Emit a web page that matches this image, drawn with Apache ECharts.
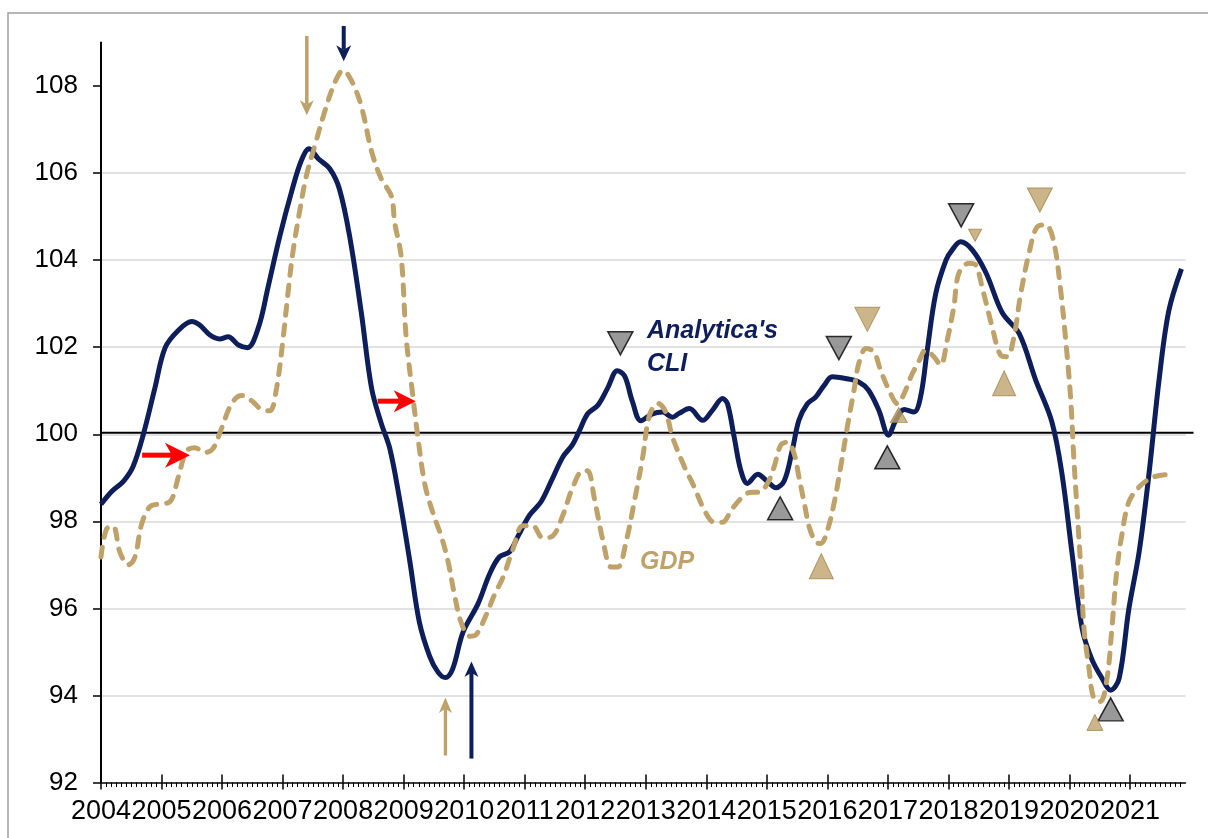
<!DOCTYPE html>
<html><head><meta charset="utf-8">
<script src="https://cdn.jsdelivr.net/npm/echarts@6/dist/echarts.min.js"></script>
<style>html,body{margin:0;padding:0;background:#fff}#c{width:1208px;height:838px}</style>
</head><body><div id="c"></div>
<script>
// ---- data ----
const cliYears = [2004.00,2004.18,2004.37,2004.53,2004.70,2004.89,2005.06,2005.28,2005.50,2005.63,2005.80,2005.96,2006.10,2006.27,2006.42,2006.60,2006.76,2006.95,2007.15,2007.31,2007.44,2007.59,2007.78,2007.94,2008.11,2008.30,2008.47,2008.63,2008.77,2008.93,2009.10,2009.26,2009.43,2009.57,2009.69,2009.81,2009.98,2010.23,2010.42,2010.58,2010.75,2010.89,2011.08,2011.27,2011.44,2011.63,2011.79,2011.90,2012.04,2012.21,2012.37,2012.53,2012.65,2012.78,2012.92,2013.11,2013.28,2013.44,2013.55,2013.72,2013.94,2014.10,2014.27,2014.35,2014.46,2014.57,2014.68,2014.85,2014.99,2015.15,2015.29,2015.42,2015.53,2015.67,2015.81,2015.95,2016.08,2016.30,2016.52,2016.68,2016.85,2017.01,2017.13,2017.27,2017.43,2017.54,2017.65,2017.79,2017.96,2018.06,2018.20,2018.39,2018.62,2018.89,2019.17,2019.44,2019.71,2019.88,2020.04,2020.21,2020.37,2020.54,2020.68,2020.82,2020.98,2021.15,2021.31,2021.48,2021.64,2021.85];
const cliValues = [98.39,98.69,98.92,99.26,100.0,101.06,101.99,102.39,102.59,102.51,102.28,102.19,102.24,102.05,101.99,102.45,103.38,104.53,105.58,106.29,106.56,106.33,106.10,105.63,104.53,102.8,101.06,100.25,99.68,98.53,97.1,95.68,94.9,94.53,94.41,94.61,95.45,96.11,96.79,97.18,97.3,97.66,98.14,98.45,98.93,99.48,99.76,100.07,100.47,100.67,101.06,101.46,101.34,100.75,100.31,100.47,100.51,100.39,100.48,100.59,100.32,100.55,100.82,100.7,99.94,99.17,98.87,99.08,98.94,98.77,98.94,99.63,100.32,100.7,100.86,101.13,101.32,101.28,101.2,101.01,100.55,99.98,100.32,100.57,100.51,100.86,101.93,103.23,104.0,104.23,104.42,104.24,103.71,102.79,102.31,101.25,100.28,99.05,97.29,95.53,94.83,94.39,94.12,94.39,95.98,97.29,99.05,101.25,102.83,103.80];

const gdpYears = [2004.00,2004.09,2004.20,2004.31,2004.45,2004.56,2004.67,2004.81,2004.97,2005.14,2005.28,2005.41,2005.55,2005.72,2005.85,2005.99,2006.16,2006.32,2006.49,2006.65,2006.79,2006.90,2007.01,2007.09,2007.17,2007.28,2007.39,2007.53,2007.70,2007.86,2008.00,2008.14,2008.30,2008.47,2008.63,2008.80,2008.85,2008.96,2009.04,2009.15,2009.24,2009.35,2009.48,2009.62,2009.73,2009.84,2009.95,2010.09,2010.20,2010.36,2010.50,2010.64,2010.80,2010.97,2011.13,2011.30,2011.46,2011.63,2011.79,2011.96,2012.04,2012.15,2012.29,2012.43,2012.54,2012.67,2012.81,2012.95,2013.06,2013.20,2013.33,2013.44,2013.64,2013.80,2013.97,2014.13,2014.27,2014.41,2014.57,2014.74,2014.87,2015.01,2015.12,2015.23,2015.34,2015.45,2015.53,2015.62,2015.70,2015.81,2015.89,2016.00,2016.11,2016.22,2016.33,2016.44,2016.52,2016.64,2016.77,2016.88,2017.02,2017.16,2017.27,2017.38,2017.52,2017.62,2017.76,2017.87,2017.98,2018.09,2018.17,2018.34,2018.45,2018.56,2018.72,2018.86,2018.97,2019.08,2019.19,2019.33,2019.47,2019.61,2019.74,2019.85,2019.94,2020.02,2020.07,2020.13,2020.19,2020.24,2020.32,2020.40,2020.51,2020.62,2020.70,2020.78,2020.87,2020.98,2021.15,2021.37,2021.59];
const gdpValues = [97.18,97.82,97.89,97.3,97.0,97.18,97.93,98.34,98.4,98.45,99.03,99.61,99.69,99.58,99.67,100.13,100.71,100.89,100.77,100.57,100.54,101.06,102.22,103.26,104.18,105.11,105.92,106.62,107.43,108.07,108.36,108.12,107.54,106.5,105.87,105.46,104.88,104.07,102.25,100.9,99.88,98.85,98.21,97.66,97.10,96.31,95.68,95.36,95.4,95.84,96.31,96.71,97.34,97.9,97.9,97.62,97.66,98.14,98.77,99.16,99.16,98.53,97.58,96.95,96.95,97.5,98.45,99.48,100.43,100.71,100.51,99.94,99.25,98.79,98.25,97.98,97.98,98.25,98.52,98.67,98.67,98.87,99.25,99.75,99.82,99.56,99.02,98.41,97.87,97.52,97.49,97.79,98.41,99.25,100.17,101.01,101.63,101.97,101.89,101.47,101.01,100.7,100.94,101.32,101.7,101.93,101.78,101.59,102.16,102.93,103.69,103.93,103.89,103.36,102.48,101.82,101.78,102.22,103.19,104.15,104.77,104.81,104.42,103.36,102.13,100.81,99.49,98.17,96.85,95.53,94.65,93.94,93.86,94.39,95.53,96.85,97.73,98.44,98.79,99.01,99.07];

const yearTicks = [2004,2005,2006,2007,2008,2009,2010,2011,2012,2013,2014,2015,2016,2017,2018,2019,2020,2021];
const valueTicks = [92,94,96,98,100,102,104,106,108];

const cliPeaks = [[2012.58,102.09],[2016.19,101.98],[2018.21,105.03]];
const cliTroughs = [[2015.22,98.30],[2016.99,99.47],[2020.68,93.68]];
const gdpPeaks = [[2016.66,102.64],[2019.51,105.38],[2018.44,104.57]];
const gdpTroughs = [[2015.90,96.97],[2017.18,100.44],[2018.92,101.17],[2020.42,93.38]];

// annotation arrows (data units): tail -> tip
const arrowTails = [[2007.40,109.15],[2008.01,109.38],[2009.69,92.62],[2010.12,92.55],[2004.68,99.52],[2008.57,100.76]];
const arrowTips  = [[2007.40,107.33],[2008.01,108.57],[2009.69,93.95],[2010.12,94.78],[2005.47,99.52],[2009.20,100.76]];

// ---- styles ----
const NAVY = '#0e1e5b', TAN = '#bfa26a', TAN_DARK = '#a0854f', GRAY = '#7f7f7f', RED = '#ff0000';
const FONT = '"Liberation Sans", Arial, sans-serif';
const gdpPeakSizes = [[25,24],[25,24],[13,12]];
const gdpTroughSizes = [[24,25],[17,15],[23,25],[16,16]];
const arrowStyles = [
  {c:TAN, w:3.5, L:15, W:7}, {c:NAVY, w:4, L:16, W:7.5},
  {c:TAN, w:3.3, L:15.5, W:6.5}, {c:NAVY, w:4, L:15.5, W:7},
  {c:RED, w:5, L:25, W:12.5}, {c:RED, w:5, L:22, W:11}
];
const XMAX = 2004 + 215/12;

const chart = echarts.init(document.getElementById('c'), null, {renderer:'canvas'});
const pair = (xs, ys) => xs.map((x,i)=>[x, ys[i]]);

chart.setOption({
  animation:false,
  backgroundColor:'#fff',
  grid:{left:101, right:22.5, top:42.5, bottom:55.5, containLabel:false},
  xAxis:[{
    type:'value', min:2004, max:XMAX, interval:1,
    axisLine:{show:true, onZero:false, lineStyle:{color:'#000', width:1.5}},
    axisTick:{show:true, length:7, customValues:yearTicks, lineStyle:{color:'#000', width:1.5}},
    minorTick:{show:true, splitNumber:12, length:4.5, lineStyle:{color:'#000', width:1}},
    axisLabel:{customValues:yearTicks, showMinLabel:true, showMaxLabel:true, hideOverlap:false,
      formatter:v=>String(Math.round(v)), fontSize:27, color:'#000', margin:16, fontFamily:FONT},
    splitLine:{show:false}, minorSplitLine:{show:false}
  },{
    type:'value', min:2004, max:XMAX, interval:1, position:'bottom',
    axisLine:{show:false},
    axisTick:{show:true, inside:true, length:8, customValues:yearTicks, lineStyle:{color:'#000', width:1.5}},
    axisLabel:{show:false}, splitLine:{show:false}
  }],
  yAxis:{
    type:'value', min:92, max:109, interval:2,
    axisLine:{show:true, onZero:false, lineStyle:{color:'#000', width:2}},
    axisTick:{show:true, length:8, customValues:valueTicks, lineStyle:{color:'#000', width:1.5}},
    axisLabel:{customValues:valueTicks, showMinLabel:true, fontSize:26, color:'#000', margin:23, fontFamily:FONT},
    splitLine:{show:true, showMinLine:false, showMaxLine:false, lineStyle:{color:'#d9d9d9', width:1.5}}
  },
  series:[
    {name:"Analytica's CLI", type:'line', data:pair(cliYears, cliValues), smooth:0.35, symbol:'none',
     lineStyle:{color:NAVY, width:5}, z:3, silent:true},
    {name:'GDP', type:'line', data:pair(gdpYears, gdpValues), smooth:0.35, symbol:'none',
     lineStyle:{color:TAN, width:5, type:[10,10], cap:'round'}, z:4, silent:true},
    {type:'scatter', data:cliPeaks, symbol:'triangle', symbolRotate:180, symbolSize:[25,23],
     itemStyle:{color:GRAY, borderColor:'#000', borderWidth:1.5}, z:6, silent:true},
    {type:'scatter', data:cliTroughs, symbol:'triangle', symbolSize:[25,23],
     itemStyle:{color:GRAY, borderColor:'#000', borderWidth:1.5}, z:6, silent:true},
    {type:'scatter', data:gdpPeaks, symbol:'triangle', symbolRotate:180,
     symbolSize:(v,p)=>gdpPeakSizes[p.dataIndex],
     itemStyle:{color:TAN, borderColor:TAN_DARK, borderWidth:1}, z:6, silent:true},
    {type:'scatter', data:gdpTroughs, symbol:'triangle',
     symbolSize:(v,p)=>gdpTroughSizes[p.dataIndex],
     itemStyle:{color:TAN, borderColor:TAN_DARK, borderWidth:1}, z:6, silent:true}
  ]
});

// ---- annotations from data coordinates ----
const px = p => chart.convertToPixel({gridIndex:0}, p);
const g = [];
g.push({type:'rect', shape:{x:8, y:13, width:1215, height:840}, style:{fill:'none', stroke:'#a0a0a0', lineWidth:1.5}, z:0, silent:true});
const a100 = px([2004,100]), b100 = px([XMAX,100]);
g.push({type:'line', shape:{x1:a100[0], y1:a100[1]-1.5, x2:b100[0]+8, y2:b100[1]-1.5}, style:{stroke:'#000', lineWidth:2}, z:1, silent:true});
arrowTails.forEach((t,i)=>{
  const s = arrowStyles[i];
  const T = px(t), P = px(arrowTips[i]);
  const dx = P[0]-T[0], dy = P[1]-T[1], len = Math.hypot(dx,dy);
  const ux = dx/len, uy = dy/len, nx = -uy, ny = ux;
  const bx = P[0]-ux*s.L, by = P[1]-uy*s.L;
  const nX = P[0]-ux*s.L*0.72, nY = P[1]-uy*s.L*0.72;
  g.push({type:'line', shape:{x1:T[0], y1:T[1], x2:nX, y2:nY}, style:{stroke:s.c, lineWidth:s.w}, z:20, silent:true});
  g.push({type:'polygon', shape:{points:[[P[0],P[1]],[bx+nx*s.W, by+ny*s.W],[nX,nY],[bx-nx*s.W, by-ny*s.W]]}, style:{fill:s.c}, z:20, silent:true});
});
g.push({type:'text', x:647, y:331, style:{text:"Analytica's", font:'italic bold 25px '+FONT, fill:NAVY, align:'left', verticalAlign:'middle'}, z:20, silent:true});
g.push({type:'text', x:647, y:364, style:{text:'CLI', font:'italic bold 25px '+FONT, fill:NAVY, align:'left', verticalAlign:'middle'}, z:20, silent:true});
g.push({type:'text', x:640, y:562, style:{text:'GDP', font:'italic bold 25px '+FONT, fill:TAN, align:'left', verticalAlign:'middle'}, z:20, silent:true});
chart.setOption({graphic:g});
</script></body></html>
